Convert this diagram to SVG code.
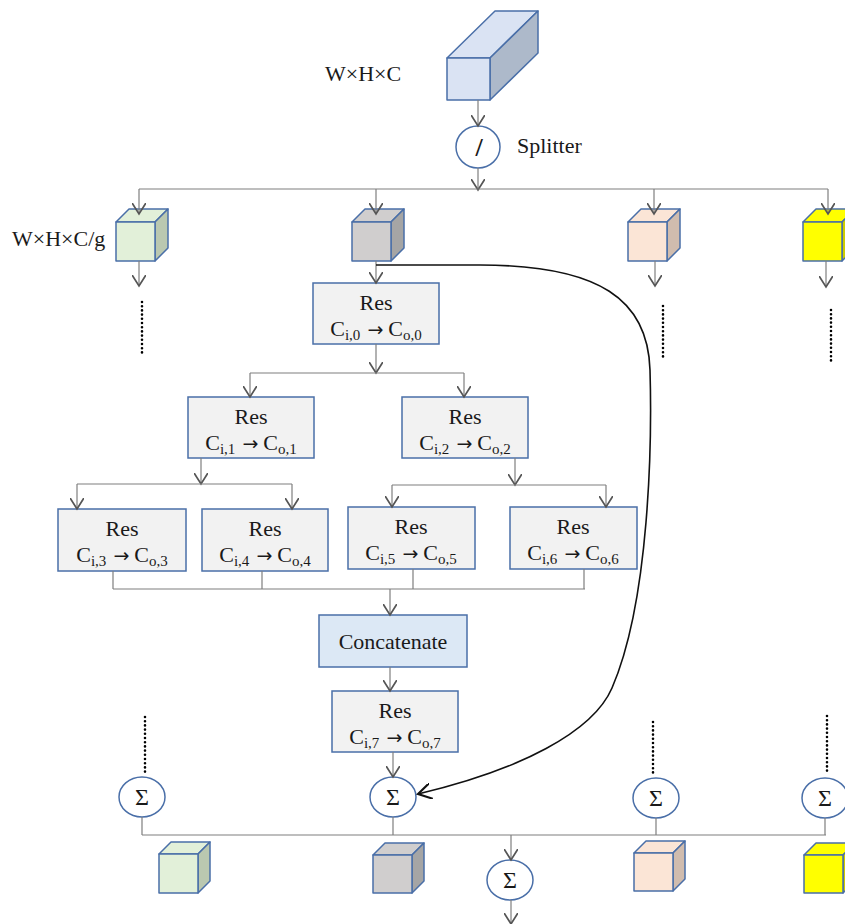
<svg xmlns="http://www.w3.org/2000/svg" width="845" height="924" viewBox="0 0 845 924">
<style>
text{font-family:"Liberation Serif","Times New Roman",serif;fill:#1a1a1a;}
.t{font-size:22px;}
.c{font-size:22px;text-anchor:middle;}
.sg{font-size:24px;text-anchor:middle;}
.sub{font-size:15px;}
.arw{font-family:"DejaVu Sans",sans-serif;font-size:19px;}
.res{fill:#f2f2f2;stroke:#4a6fa8;stroke-width:1.5;}
.cat{fill:#dce8f5;stroke:#4a6fa8;stroke-width:1.5;}
.cs{stroke:#4a6fa8;stroke-width:1.5;stroke-linejoin:round;}
.ell{fill:#ffffff;stroke:#4a6fa8;stroke-width:1.5;}
.ln{fill:none;stroke:#7f7f7f;stroke-width:1.2;}
.ar{fill:none;stroke:#7f7f7f;stroke-width:1.2;marker-end:url(#ah);}
.dot{fill:none;stroke:#000;stroke-width:2.6;stroke-dasharray:0,4.2;stroke-linecap:round;}
</style>
<defs>
<marker id="ah" markerUnits="userSpaceOnUse" markerWidth="14" markerHeight="14" refX="8" refY="5" orient="auto" viewBox="0 0 10 10">
<path d="M0,0 L8,5 L0,10" fill="none" stroke="#555" stroke-width="1.2"/>
</marker>
<marker id="ahb" markerUnits="userSpaceOnUse" markerWidth="16" markerHeight="16" refX="10" refY="6" orient="auto" viewBox="0 0 12 12">
<path d="M0,0 L10,6 L0,12" fill="none" stroke="#111" stroke-width="1.6"/>
</marker>
</defs>
<rect width="845" height="924" fill="#ffffff"/>

<g id="input-tensor">
<polygon class="cs" fill="#dae3f3" points="447,58 495,11 538,11 490,58"/>
<polygon class="cs" fill="#adb9ca" points="490,58 538,11 538,53 490,100"/>
<rect class="cs" fill="#dae3f3" x="447" y="58" width="43" height="42"/>
<text class="t" x="325" y="81">W×H×C</text>
</g>

<g id="splitter">
<ellipse class="ell" cx="478" cy="147" rx="22" ry="21"/>
<text x="479" y="156" font-size="26" font-weight="bold" text-anchor="middle">/</text>
<text class="t" x="517" y="153">Splitter</text>
</g>

<g id="cube-green-top">
<polygon class="cs" fill="#e2f0d9" points="116,222 129,209 168,209 155,222"/>
<polygon class="cs" fill="#bac8b0" points="155,222 168,209 168,248 155,261"/>
<rect class="cs" fill="#e2f0d9" x="116" y="222" width="39" height="39"/>
<text class="t" x="12" y="246">W×H×C/g</text>
</g>
<g id="cube-gray-top">
<polygon class="cs" fill="#d0cece" points="352,222 365,209 404,209 391,222"/>
<polygon class="cs" fill="#a5a5a5" points="391,222 404,209 404,248 391,261"/>
<rect class="cs" fill="#d0cece" x="352" y="222" width="39" height="39"/>
</g>
<g id="cube-peach-top">
<polygon class="cs" fill="#fbe5d6" points="628,222 641,209 680,209 667,222"/>
<polygon class="cs" fill="#d0bcae" points="667,222 680,209 680,248 667,261"/>
<rect class="cs" fill="#fbe5d6" x="628" y="222" width="39" height="39"/>
</g>
<g id="cube-yellow-top">
<polygon class="cs" fill="#ffff00" points="803,222 816,209 855,209 842,222"/>
<polygon class="cs" fill="#cccc00" points="842,222 855,209 855,248 842,261"/>
<rect class="cs" fill="#ffff00" x="803" y="222" width="39" height="39"/>
</g>

<g id="res0">
<rect class="res" x="313" y="283" width="126" height="61"/>
<text class="c" x="376" y="310">Res</text>
<text class="c" x="376" y="336">C<tspan class="sub" dy="4">i,0</tspan><tspan class="arw" dy="-4" dx="7">→</tspan><tspan dx="5">C</tspan><tspan class="sub" dy="4">o,0</tspan></text>
</g>
<g id="res1">
<rect class="res" x="188" y="397" width="126" height="61"/>
<text class="c" x="251" y="424">Res</text>
<text class="c" x="251" y="450">C<tspan class="sub" dy="4">i,1</tspan><tspan class="arw" dy="-4" dx="7">→</tspan><tspan dx="5">C</tspan><tspan class="sub" dy="4">o,1</tspan></text>
</g>
<g id="res2">
<rect class="res" x="402" y="397" width="126" height="61"/>
<text class="c" x="465" y="424">Res</text>
<text class="c" x="465" y="450">C<tspan class="sub" dy="4">i,2</tspan><tspan class="arw" dy="-4" dx="7">→</tspan><tspan dx="5">C</tspan><tspan class="sub" dy="4">o,2</tspan></text>
</g>
<g id="res3">
<rect class="res" x="58" y="509" width="128" height="62"/>
<text class="c" x="122" y="536">Res</text>
<text class="c" x="122" y="562">C<tspan class="sub" dy="4">i,3</tspan><tspan class="arw" dy="-4" dx="7">→</tspan><tspan dx="5">C</tspan><tspan class="sub" dy="4">o,3</tspan></text>
</g>
<g id="res4">
<rect class="res" x="202" y="509" width="126" height="62"/>
<text class="c" x="265" y="536">Res</text>
<text class="c" x="265" y="562">C<tspan class="sub" dy="4">i,4</tspan><tspan class="arw" dy="-4" dx="7">→</tspan><tspan dx="5">C</tspan><tspan class="sub" dy="4">o,4</tspan></text>
</g>
<g id="res5">
<rect class="res" x="348" y="507" width="127" height="62"/>
<text class="c" x="411" y="534">Res</text>
<text class="c" x="411" y="560">C<tspan class="sub" dy="4">i,5</tspan><tspan class="arw" dy="-4" dx="7">→</tspan><tspan dx="5">C</tspan><tspan class="sub" dy="4">o,5</tspan></text>
</g>
<g id="res6">
<rect class="res" x="510" y="507" width="127" height="62"/>
<text class="c" x="573" y="534">Res</text>
<text class="c" x="573" y="560">C<tspan class="sub" dy="4">i,6</tspan><tspan class="arw" dy="-4" dx="7">→</tspan><tspan dx="5">C</tspan><tspan class="sub" dy="4">o,6</tspan></text>
</g>
<g id="concatenate">
<rect class="cat" x="319" y="615" width="148" height="52"/>
<text class="c" x="393" y="649">Concatenate</text>
</g>
<g id="res7">
<rect class="res" x="332" y="691" width="126" height="61"/>
<text class="c" x="395" y="718">Res</text>
<text class="c" x="395" y="744">C<tspan class="sub" dy="4">i,7</tspan><tspan class="arw" dy="-4" dx="7">→</tspan><tspan dx="5">C</tspan><tspan class="sub" dy="4">o,7</tspan></text>
</g>

<g id="sum-green">
<ellipse class="ell" cx="142" cy="797" rx="23" ry="20"/>
<text class="sg" x="142" y="805">Σ</text>
</g>
<g id="sum-gray">
<ellipse class="ell" cx="393" cy="797" rx="23" ry="20"/>
<text class="sg" x="393" y="805">Σ</text>
</g>
<g id="sum-peach">
<ellipse class="ell" cx="656" cy="798" rx="23" ry="20"/>
<text class="sg" x="656" y="806">Σ</text>
</g>
<g id="sum-yellow">
<ellipse class="ell" cx="825" cy="798" rx="23" ry="20"/>
<text class="sg" x="825" y="806">Σ</text>
</g>
<g id="sum-final">
<ellipse class="ell" cx="510" cy="880" rx="23" ry="20"/>
<text class="sg" x="510" y="888">Σ</text>
</g>

<g id="cube-green-bottom">
<polygon class="cs" fill="#e2f0d9" points="159,854 171,842 210,842 198,854"/>
<polygon class="cs" fill="#bac8b0" points="198,854 210,842 210,881 198,893"/>
<rect class="cs" fill="#e2f0d9" x="159" y="854" width="39" height="39"/>
</g>
<g id="cube-gray-bottom">
<polygon class="cs" fill="#d0cece" points="373,855 385,843 424,843 412,855"/>
<polygon class="cs" fill="#a5a5a5" points="412,855 424,843 424,881 412,893"/>
<rect class="cs" fill="#d0cece" x="373" y="855" width="39" height="38"/>
</g>
<g id="cube-peach-bottom">
<polygon class="cs" fill="#fbe5d6" points="634,853 646,841 685,841 673,853"/>
<polygon class="cs" fill="#d0bcae" points="673,853 685,841 685,879 673,891"/>
<rect class="cs" fill="#fbe5d6" x="634" y="853" width="39" height="38"/>
</g>
<g id="cube-yellow-bottom">
<polygon class="cs" fill="#ffff00" points="804,855 816,843 855,843 843,855"/>
<polygon class="cs" fill="#cccc00" points="843,855 855,843 855,881 843,893"/>
<rect class="cs" fill="#ffff00" x="804" y="855" width="39" height="38"/>
</g>

<g id="connectors">
<path class="ar" d="M478,100 V126"/>
<path class="ar" d="M478,168 V190"/>
<path class="ln" d="M139,189 H828"/>
<path class="ar" d="M139,189 V214"/>
<path class="ar" d="M376,189 V214"/>
<path class="ar" d="M654,189 V214"/>
<path class="ar" d="M828,189 V214"/>
<path class="ar" d="M139,261 V286"/>
<path class="ar" d="M655,261 V286"/>
<path class="ar" d="M826,261 V287"/>
<path class="ar" d="M376,261 V283"/>
<path class="dot" d="M142,302 V356"/>
<path class="dot" d="M663,306 V360"/>
<path class="dot" d="M831,310 V364"/>
<path class="ar" d="M376,344 V373"/>
<path class="ln" d="M250,373 H464"/>
<path class="ar" d="M250,373 V397"/>
<path class="ar" d="M464,373 V397"/>
<path class="ar" d="M201,458 V484"/>
<path class="ln" d="M77,484 H292"/>
<path class="ar" d="M77,484 V509"/>
<path class="ar" d="M292,484 V509"/>
<path class="ar" d="M515,458 V485"/>
<path class="ln" d="M392,485 H606"/>
<path class="ar" d="M392,485 V507"/>
<path class="ar" d="M606,485 V507"/>
<path class="ln" d="M113,571 V589 M262,571 V589 M413,569 V589 M584,569 V589 M113,589 H585"/>
<path class="ar" d="M390,589 V615"/>
<path class="ar" d="M390,667 V691"/>
<path class="ar" d="M393,752 V777"/>
<path class="dot" d="M145,717 V772"/>
<path class="dot" d="M653,722 V776"/>
<path class="dot" d="M827,716 V771"/>
<path class="ln" d="M142,817 V835 M393,817 V835 M656,818 V835 M825,818 V835 M142,835 H826"/>
<path class="ar" d="M511,835 V860"/>
<path class="ar" d="M511,900 V924"/>
<path d="M376,265 H480 C600,265 648,300 650,370 C652,440 650,600 612,688 C593,732 520,770 418,794" fill="none" stroke="#111" stroke-width="1.6" marker-end="url(#ahb)"/>
</g>
</svg>
